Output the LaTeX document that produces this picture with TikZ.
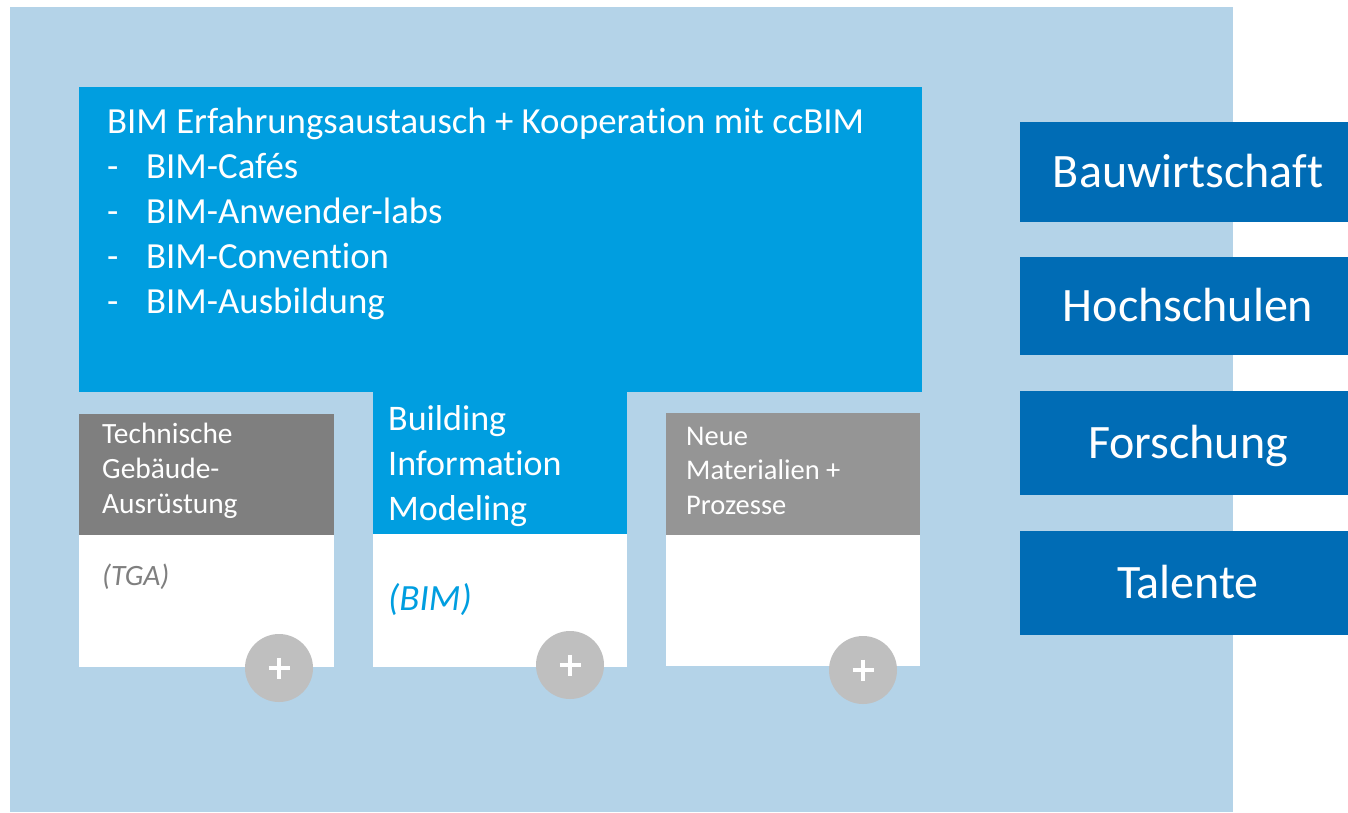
\documentclass[tikz,border=0pt]{standalone}
\usepackage{fontspec}
\setmainfont{Carlito}[RawFeature={-liga}]
\definecolor{bgblue}{HTML}{B4D3E8}
\definecolor{topblue}{HTML}{009EE0}
\definecolor{darkblue}{HTML}{006CB5}
\definecolor{grayA}{HTML}{7F7F7F}
\definecolor{grayB}{HTML}{959595}
\definecolor{plusgray}{HTML}{BFBFBF}
\tikzset{
  panel/.style={anchor=north west, inner sep=0, outer sep=0},
  rbox/.style={fill=darkblue, text=white, minimum width=328, inner sep=0,
    text height=31, text depth=0, font=\fontsize{48}{58}\selectfont,
    execute at begin node={\hspace*{8pt}}},
  plusbtn/.style={circle, fill=plusgray, minimum size=68, inner sep=0},
  plusline/.style={white, line width=4pt},
  txt/.style={anchor=base west, inner sep=0}
}
\begin{document}
\begin{tikzpicture}[x=1pt,y=-1pt]
\useasboundingbox (0,0) rectangle (1348,812);
\fill[bgblue] (10,7) rectangle (1233,812);

% top box
\node[panel, fill=topblue, minimum width=843, minimum height=305] (top) at (79,87) {};
\node[txt, text=white, font=\fontsize{36.8}{45}\selectfont] (toptext) at (107,133)
 {\parbox[t]{800pt}{\raggedright BIM Erfahrungsaustausch + Kooperation mit ccBIM\\
 \makebox[39pt][l]{-}BIM-Cafés\\
 \makebox[39pt][l]{-}BIM-Anwender-labs\\
 \makebox[39pt][l]{-}BIM-Convention\\
 \makebox[39pt][l]{-}BIM-Ausbildung}};

% TGA card
\node[panel, fill=grayA, minimum width=255, minimum height=121] (tgah) at (79,414) {};
\node[panel, fill=white, minimum width=255, minimum height=132] (tgab) at (79,535) {};
\node[txt, text=white, font=\fontsize{29.4}{35}\selectfont] (tgat) at (102,443)
 {\parbox[t]{220pt}{\raggedright Technische\\Gebäude-\\Ausrüstung}};
\node[txt, text=grayA, font=\fontsize{29.5}{32}\selectfont\itshape] (tgaa) at (102,585) {(TGA)};

% BIM card
\node[panel, fill=topblue, minimum width=254, minimum height=143] (bimh) at (373,392) {};
\node[panel, fill=white, minimum width=254, minimum height=133] (bimb) at (373,534) {};
\node[txt, text=white, font=\fontsize{36}{45}\selectfont] (bimt) at (388,430)
 {\parbox[t]{230pt}{\raggedright Building\\Information\\Modeling}};
\node[txt, text=topblue, font=\fontsize{37}{44}\selectfont\itshape] (bima) at (388,610) {(BIM)};

% Neue Materialien card
\node[panel, fill=grayB, minimum width=254, minimum height=123] (neuh) at (666,413) {};
\node[panel, fill=white, minimum width=254, minimum height=131] (neub) at (666,535) {};
\node[txt, text=white, font=\fontsize{28.5}{34.5}\selectfont] (neut) at (686,445)
 {\parbox[t]{220pt}{\raggedright Neue\\Materialien +\\Prozesse}};

% plus buttons
\foreach \n/\x/\y in {p1/279/668, p2/570/665, p3/863/670}{
  \node[plusbtn] (\n) at (\x,\y) {};
  \draw[plusline] (\n.center) ++(-10.5,0) -- ++(21,0);
  \draw[plusline] (\n.center) ++(0,-10.5) -- ++(0,21);
}

% right boxes
\node[rbox, minimum height=100] (bau) at (1184,172) {Bauwirtschaft};
\node[rbox, minimum height=98] (hoch) at (1184,306) {Hochschulen};
\node[rbox, minimum height=104] (forsch) at (1184,443) {Forschung};
\node[rbox, minimum height=104] (tal) at (1184,583) {Talente};
\end{tikzpicture}
\end{document}
